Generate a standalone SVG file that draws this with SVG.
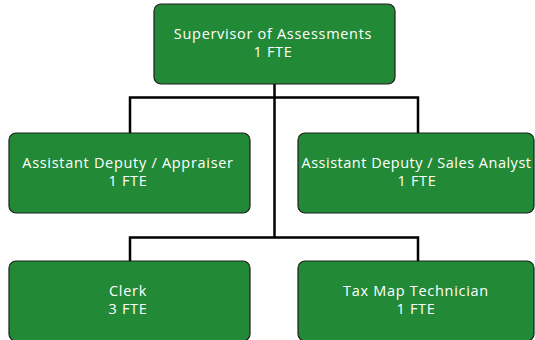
<svg xmlns="http://www.w3.org/2000/svg" width="535" height="340" viewBox="0 0 535 340">
<style>
.box{fill:#228a37;stroke:#1d1d1d;stroke-width:1.2}
.t{fill:#ffffff;font-family:"Open Sans","Noto Sans",sans-serif;font-size:14.5px;letter-spacing:0.7px;text-anchor:middle}
.ln{stroke:#000;stroke-width:2.5;fill:none}
</style>
<rect width="535" height="340" fill="#ffffff"/>
<g id="connectors">
<path class="ln" d="M274.5 84V237.5"/>
<path class="ln" d="M130 133V97.5H418V133"/>
<path class="ln" d="M130 261V237.5H418V261"/>
</g>
<g id="n-supervisor">
<rect class="box" x="154" y="4" width="241" height="80" rx="7"/>
<text class="t" x="273" y="39">Supervisor of Assessments</text>
<text class="t" x="273" y="57">1 FTE</text>
</g>
<g id="n-appraiser">
<rect class="box" x="9" y="133" width="241" height="80" rx="7"/>
<text class="t" x="128" y="168">Assistant Deputy / Appraiser</text>
<text class="t" x="128" y="186">1 FTE</text>
</g>
<g id="n-sales">
<rect class="box" x="298" y="133" width="236" height="80" rx="7"/>
<text class="t" x="416.5" y="168" style="letter-spacing:0.5px">Assistant Deputy / Sales Analyst</text>
<text class="t" x="417" y="186">1 FTE</text>
</g>
<g id="n-clerk">
<rect class="box" x="9" y="261" width="241" height="80" rx="7"/>
<text class="t" x="128" y="296">Clerk</text>
<text class="t" x="128" y="314">3 FTE</text>
</g>
<g id="n-taxmap">
<rect class="box" x="298" y="261" width="236" height="80" rx="7"/>
<text class="t" x="416" y="296">Tax Map Technician</text>
<text class="t" x="416" y="314">1 FTE</text>
</g>
</svg>
